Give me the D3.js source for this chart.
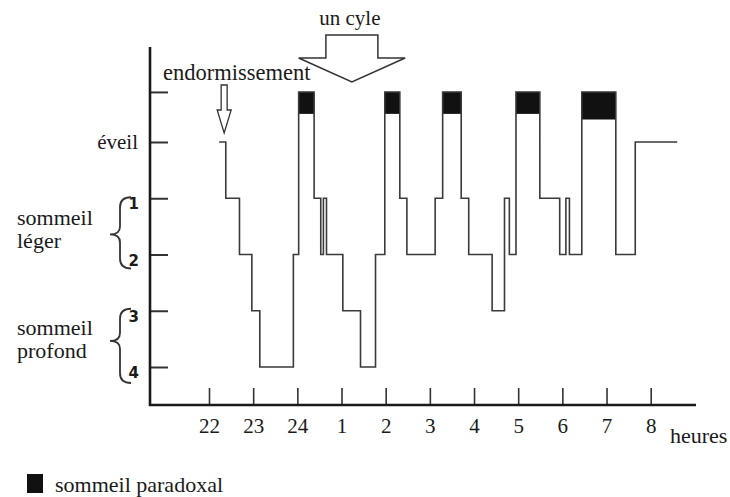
<!DOCTYPE html>
<html lang="fr">
<head>
<meta charset="UTF-8">
<title>Hypnogramme</title>
<script src="https://cdn.jsdelivr.net/npm/d3@7"></script>
<style>
    html,body{ margin:0; padding:0; background:#fff; }
    svg{ display:block; }
</style>
</head>
<body>
<script>
// heures affichées sur l'axe (22h -> 8h, notées en continu 22..32)
const hours = [22, 23, 24, 25, 26, 27, 28, 29, 30, 31, 32];
const hourLabels = ["22", "23", "24", "1", "2", "3", "4", "5", "6", "7", "8"];

// niveaux de l'axe vertical (P = sommeil paradoxal)
const stageKeys = ["P", "E", "1", "2", "3", "4"];
const stageLevel = [-0.89, 0, 1, 2, 3, 4];
const stageLabels = ["", "éveil", "1", "2", "3", "4"];

// hypnogramme : début de chaque épisode (heures) et stade
const stepTimes = [22.23, 22.38, 22.69, 22.97, 23.15, 23.91, 24.03, 24.38, 24.53, 24.59,
                   24.66, 25.03, 25.43, 25.77, 25.98, 26.32, 26.48, 27.12, 27.29, 27.71,
                   27.88, 28.41, 28.69, 28.80, 28.95, 29.49, 29.94, 30.08, 30.16, 30.44,
                   31.21, 31.65];
const stepStages = ["E", "1", "2", "3", "4", "2", "P", "1", "2", "1",
                    "2", "3", "4", "2", "P", "1", "2", "1", "P", "1",
                    "2", "3", "1", "2", "P", "1", "2", "1", "2", "P",
                    "2", "E"];
const endTime = 32.60;
// profondeur de la partie noire de chaque épisode paradoxal
const remBlack = [-0.5, -0.5, -0.5, -0.5, -0.4];

const serif = "'Liberation Serif', 'Times New Roman', serif";
const width = 730, height = 497;
const svg = d3.select("body").append("svg")
    .attr("width", width).attr("height", height);

const x = d3.scaleLinear().domain([22, 32]).range([209, 650.7]);
const y = d3.scaleLinear().domain([0, 4]).range([142, 367]);
const lvl = k => stageLevel[stageKeys.indexOf(k)];

const axisX = 150, axisY = 405;

function label(px, py, str, size) {
    return svg.append("text").attr("x", px).attr("y", py)
        .style("font-family", serif).style("font-size", size + "px")
        .attr("fill", "#1a1a1a").text(str);
}

// black parts of REM periods
let rem = [];
stepStages.forEach((s, i) => {
    if (s === "P") {
        let t1 = i + 1 < stepTimes.length ? stepTimes[i + 1] : endTime;
        rem.push({ t0: stepTimes[i], t1: t1 });
    }
});
rem.forEach((d, i) => d.depth = remBlack[i]);

svg.append("g").selectAll("rect").data(rem).join("rect")
    .attr("x", d => x(d.t0))
    .attr("width", d => x(d.t1) - x(d.t0))
    .attr("y", y(lvl("P")))
    .attr("height", d => y(d.depth) - y(lvl("P")))
    .attr("fill", "#111");

// step line
let pts = stepTimes.map((t, i) => ({ t: t, v: lvl(stepStages[i]) }));
pts.push({ t: endTime, v: lvl(stepStages[stepStages.length - 1]) });

const line = d3.line().curve(d3.curveStepAfter)
    .x(d => x(d.t)).y(d => y(d.v));

svg.append("path").datum(pts)
    .attr("d", line)
    .attr("fill", "none")
    .attr("stroke", "#3a3a3a")
    .attr("stroke-width", 1.6);

// y axis
const yAxis = d3.axisLeft(y)
    .tickValues(stageLevel)
    .tickSizeInner(-18).tickSizeOuter(0)
    .tickPadding(11)
    .tickFormat((d, i) => stageLabels[i]);

const gy = svg.append("g").attr("transform", `translate(${axisX},0)`).call(yAxis);
gy.select(".domain").remove();
gy.selectAll(".tick line").attr("stroke", "#333").attr("stroke-width", 2);
gy.selectAll(".tick text")
    .attr("fill", "#1a1a1a")
    .each(function(d, i) {
        let t = d3.select(this);
        if (i >= 2) {
            t.style("font-family", "'DejaVu Sans', sans-serif")
             .style("font-weight", "bold")
             .style("font-size", "15px")
             .attr("dy", "0.7em");
        } else {
            t.style("font-family", serif).style("font-size", "21px").attr("x", -12);
        }
    });

svg.append("line")
    .attr("x1", axisX).attr("x2", axisX)
    .attr("y1", 47).attr("y2", axisY + 1)
    .attr("stroke", "#1a1a1a").attr("stroke-width", 2.6);

// x axis
const xAxis = d3.axisBottom(x)
    .tickValues(hours)
    .tickSizeInner(-17).tickSizeOuter(0)
    .tickPadding(13)
    .tickFormat((d, i) => hourLabels[i]);

const gx = svg.append("g").attr("transform", `translate(0,${axisY})`).call(xAxis);
gx.select(".domain").remove();
gx.selectAll(".tick line").attr("stroke", "#333").attr("stroke-width", 1.6);
gx.selectAll(".tick text")
    .attr("fill", "#1a1a1a")
    .style("font-family", serif)
    .style("font-size", "21px");

svg.append("line")
    .attr("x1", axisX - 1).attr("x2", 696)
    .attr("y1", axisY).attr("y2", axisY)
    .attr("stroke", "#1a1a1a").attr("stroke-width", 2.6);

label(670, 443, "heures", 22);

// braces and stage groups
function brace(yTop, yBot, yMid) {
    let xr = 131, xm = 120, xt = 110;
    return `M${xr},${yTop} Q${xm},${yTop} ${xm},${yTop + 10} L${xm},${yMid - 8}` +
           ` Q${xm},${yMid} ${xt},${yMid} Q${xm},${yMid} ${xm},${yMid + 8}` +
           ` L${xm},${yBot - 10} Q${xm},${yBot} ${xr},${yBot}`;
}
svg.append("path").attr("d", brace(y(1) - 1, y(2) + 14, (y(1) + y(2)) / 2 + 8))
    .attr("fill", "none").attr("stroke", "#333").attr("stroke-width", 1.8);
svg.append("path").attr("d", brace(y(3) - 2, y(4) + 16, (y(3) + y(4)) / 2 + 2))
    .attr("fill", "none").attr("stroke", "#333").attr("stroke-width", 1.8);

const groups = [["sommeil", "léger", 225], ["sommeil", "profond", 335]];
groups.forEach(g => {
    let t = label(17, g[2], null, 22);
    t.append("tspan").attr("x", 17).text(g[0]);
    t.append("tspan").attr("x", 17).attr("dy", 23).text(g[1]);
});

// annotations
const onsetX = x(stepTimes[0]) + 5;
label(163, 80, "endormissement", 22.5);
svg.append("path")
    .attr("d", `M${onsetX - 3},85 L${onsetX + 3},85 L${onsetX + 3},110 L${onsetX + 7},110` +
               ` L${onsetX},133 L${onsetX - 7},110 L${onsetX - 3},110 Z`)
    .attr("fill", "#fff").attr("stroke", "#333").attr("stroke-width", 1.3);

const cx = (x(24.03) + x(26.44)) / 2, hw = (x(26.44) - x(24.03)) / 2;
svg.append("path")
    .attr("d", `M${cx - 26},35 L${cx + 26},35 L${cx + 26},58 L${cx + hw},58` +
               ` L${cx},82 L${cx - hw},58 L${cx - 26},58 Z`)
    .attr("fill", "#fff").attr("stroke", "#333").attr("stroke-width", 1.5);
label(cx - 2, 25, "un cyle", 21).attr("text-anchor", "middle");

// legend
svg.append("rect").attr("x", 27).attr("y", 474).attr("width", 16).attr("height", 19)
    .attr("fill", "#111");
label(55, 492, "sommeil paradoxal", 22);
</script>
</body>
</html>
